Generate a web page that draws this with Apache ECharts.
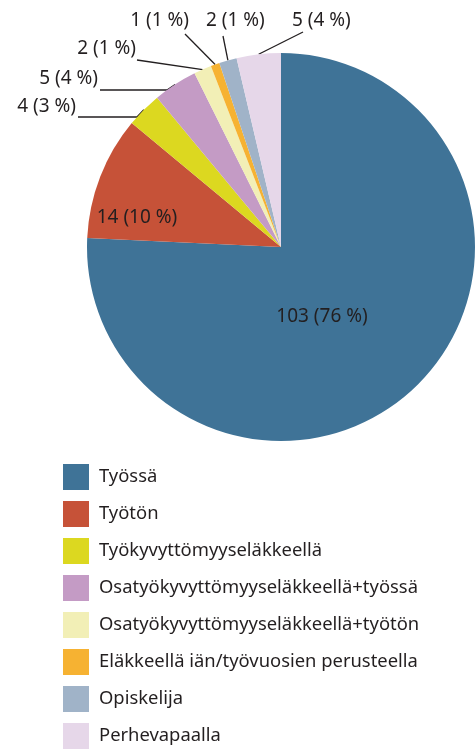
<!DOCTYPE html>
<html>
<head>
<meta charset="utf-8">
<script src="https://cdn.jsdelivr.net/npm/echarts@6/dist/echarts.min.js"></script>
<style>
  html, body { margin: 0; padding: 0; background: #fff; }
  #chart { width: 476px; height: 756px; }
</style>
</head>
<body>
<div id="chart"></div>
<script>
// aineisto
const categories = [
  'Työssä',
  'Työtön',
  'Työkyvyttömyyseläkkeellä',
  'Osatyökyvyttömyyseläkkeellä+työssä',
  'Osatyökyvyttömyyseläkkeellä+työtön',
  'Eläkkeellä iän/työvuosien perusteella',
  'Opiskelija',
  'Perhevapaalla'
]
const counts = [103, 14, 4, 5, 2, 1, 2, 5]
const percents = [76, 10, 3, 4, 1, 1, 1, 4]

const colors = ['#3f7397', '#c65238', '#dcd820', '#c49bc5', '#f2efb6', '#f6b232', '#a0b3c8', '#e6d7e9']
const textColor = '#231f20'

// label placement (text anchor + leader line points after the slice edge point)
const labelPos = [
  { x: 322, y: 317, align: 'center', inside: true },
  { x: 137, y: 218, align: 'center', inside: true },
  { x: 76, y: 107, align: 'right', line: [[137, 117], [78, 117]] },
  { x: 98, y: 79, align: 'right', line: [[167, 90], [100, 90]] },
  { x: 136, y: 49, align: 'right', line: [[137, 60]] },
  { x: 189, y: 21, align: 'right', line: [[185, 34]] },
  { x: 206, y: 21, align: 'left', line: [[223, 36]] },
  { x: 292, y: 21, align: 'left', line: [[303, 32]] }
]

let chartInstance = echarts.init(document.getElementById('chart'))

const option = {
  animation: false,
  color: colors,
  legend: {
    orient: 'vertical',
    left: 63,
    top: 464,
    padding: 0,
    itemWidth: 26,
    itemHeight: 26,
    itemGap: 11,
    icon: 'rect',
    selectedMode: false,
    data: categories,
    textStyle: {
      fontFamily: 'Noto Sans',
      fontSize: 18.4,
      color: textColor,
      padding: [0, 0, 0, 5]
    }
  },
  series: [
    {
      type: 'pie',
      center: [281, 247],
      radius: 194,
      startAngle: 90,
      clockwise: true,
      avoidLabelOverlap: false,
      emphasis: { disabled: true },
      itemStyle: { borderWidth: 0 },
      label: {
        fontFamily: 'Noto Sans',
        fontSize: 19,
        color: textColor,
        formatter: (p) => counts[p.dataIndex] + ' (' + percents[p.dataIndex] + ' %)'
      },
      labelLine: {
        show: true,
        lineStyle: { color: textColor, width: 1.3 }
      },
      labelLayout: (params) => {
        const pos = labelPos[params.dataIndex]
        const out = { x: pos.x, y: pos.y, align: pos.align, verticalAlign: 'middle' }
        if (!pos.inside && params.labelLinePoints) {
          out.labelLinePoints = [params.labelLinePoints[0]].concat(pos.line)
        }
        return out
      },
      data: categories.map((name, i) => ({
        name: name,
        value: counts[i],
        label: { position: labelPos[i].inside ? 'inner' : 'outside' },
        labelLine: { show: !labelPos[i].inside }
      }))
    }
  ]
}

chartInstance.setOption(option)
</script>
</body>
</html>
